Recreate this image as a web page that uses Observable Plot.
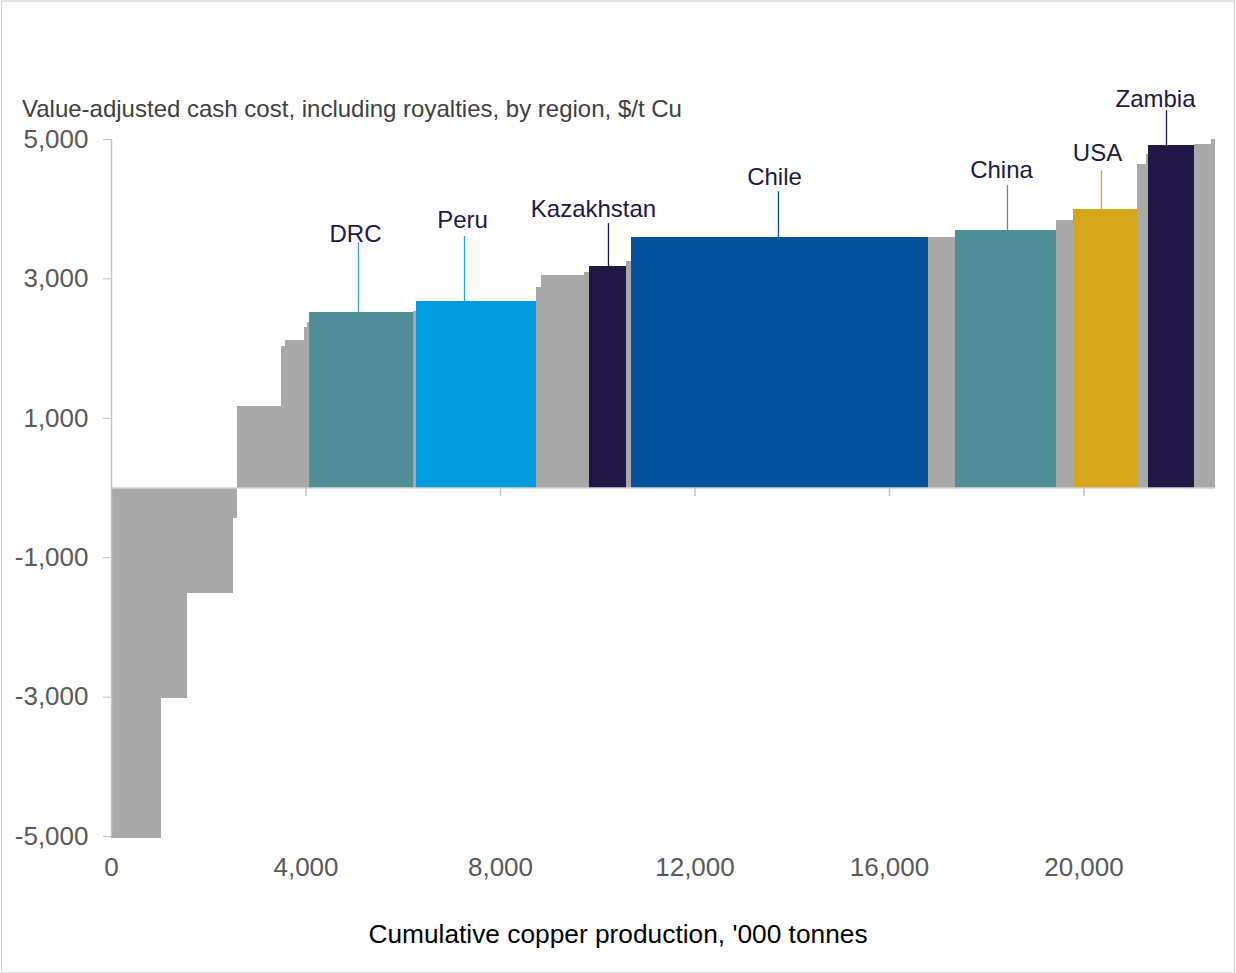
<!DOCTYPE html>
<html>
<head>
<meta charset="utf-8">
<script src="https://cdn.jsdelivr.net/npm/d3@7"></script>
<script src="https://cdn.jsdelivr.net/npm/@observablehq/plot@0.6"></script>
<style>
  body { margin: 0; background: #fff; font-family: "Liberation Sans", Arial, sans-serif; }
  #wrap { position: relative; width: 1236px; height: 973px; overflow: hidden; }
  #frame { position: absolute; left: 1px; top: 0; width: 1232px; height: 970px; border: 1px solid #d4d4d4; border-top: 2px solid #e2e2e2; pointer-events: none; box-sizing: content-box; }
  #chart { position: absolute; left: 0; top: 0; }
  #title { position: absolute; left: 22px; top: 95px; font-size: 24px; line-height: 28px; color: #404040; white-space: nowrap; }
  #xlabel { position: absolute; left: 0; width: 1236px; top: 919px; text-align: center; font-size: 26.3px; line-height: 30px; color: #000; white-space: nowrap; }
</style>
</head>
<body>
<div id="wrap">
  <div id="title">Value-adjusted cash cost, including royalties, by region, $/t Cu</div>
  <div id="chart"></div>
  <div id="xlabel">Cumulative copper production, '000 tonnes</div>
  <div id="frame"></div>
</div>
<script>
// ---- Data ----
// Each segment: region, cumulative production at its right edge ('000 t), cost ($/t Cu)
const segRegion = ["Other","Other","Other","Other","Other","Other","Other","Other","Other",
  "DRC","Other","Peru","Other","Other","Other","Kazakhstan","Other","Chile","Other",
  "China","Other","USA","Other","Other","Zambia","Other","Other"];
const segEnd = [1030, 1563, 2509, 2591, 3496, 3578, 3969, 4031, 4082,
  6211, 6273, 8741, 8843, 9728, 9831, 10591, 10694, 16809, 17358,
  19435, 19785, 21095, 21286, 21327, 22273, 22623, 22705];
const segCost = [-5030, -3020, -1513, -437, 1169, 2029, 2115, 2302, 2373,
  2517, 2530, 2674, 2871, 3055, 3095, 3176, 3248, 3588, 3590,
  3697, 3832, 3994, 4640, 4780, 4911, 4935, 5000];

const regionNames = ["Other","DRC","Peru","Kazakhstan","Chile","China","USA","Zambia"];
const regionFill  = ["#a9a9a9","#508f98","#009ade","#211846","#02539c","#508f98","#d5a619","#211846"];

// Region labels with leader lines
const labelText  = ["DRC","Peru","Kazakhstan","Chile","China","USA","Zambia"];
const labelTextX = [5018, 7219, 9913, 13635, 18304, 20278, 21471];
const labelTextY = [3528, 3728, 3886, 4345, 4445, 4689, 5464];
const leaderX    = [5080, 7260, 10221, 13717, 18427, 20360, 21697];
const leaderTop  = [3520, 3607, 3793, 4252, 4338, 4553, 5413];
const leaderBase = [2517, 2674, 3176, 3588, 3697, 3994, 4911];
const leaderColor = ["#3aa8d8","#25a6e0","#211846","#02539c","#508f98","#d5a619","#211846"];

const xTicks = [0, 4000, 8000, 12000, 16000, 20000];
const yTicks = [5000, 3000, 1000, -1000, -3000, -5000];
const xMax = 22705;

// ---- Build tables ----
const segments = segEnd.map((e, i) => ({
  region: segRegion[i], x1: i ? segEnd[i - 1] : 0, x2: e, cost: segCost[i]
}));
const labels = labelText.map((t, i) => ({
  text: t, tx: labelTextX[i], ty: labelTextY[i], lx: leaderX[i],
  y1: leaderBase[i], y2: leaderTop[i], stroke: leaderColor[i]
}));

const loc = d3.formatLocale({decimal: ".", thousands: ",", grouping: [3], currency: ["$", ""], minus: "-"});
const fmt = loc.format(",");

const chart = Plot.plot({
  width: 1236,
  height: 900,
  marginLeft: 111,
  marginRight: 21,
  marginTop: 139,
  marginBottom: 64,
  style: { fontFamily: "'Liberation Sans', Arial, sans-serif", background: "transparent", overflow: "visible" },
  x: { domain: [0, xMax] },
  y: { domain: [-5000, 5000] },
  color: { type: "ordinal", domain: regionNames, range: regionFill },
  marks: [
    Plot.rect(segments, { x1: "x1", x2: "x2", y1: 0, y2: "cost", fill: "region", shapeRendering: "crispEdges" }),
    Plot.ruleY([0], { stroke: "#d4d4d4", strokeWidth: 1.5 }),
    Plot.ruleX([0], { stroke: "#c8c8c8", strokeWidth: 1.5 }),
    Plot.ruleX(xTicks.filter(d => d > 0), { y1: 0, y2: -125, stroke: "#c0c0c0", strokeWidth: 1.5 }),
    Plot.axisY({ ticks: yTicks, tickSize: 8, tickFormat: () => "", stroke: "#c0c0c0", label: null }),
    Plot.axisY({ ticks: yTicks, tickSize: 0, tickPadding: 23, tickFormat: fmt, fill: "#595959", fontSize: 26, label: null }),
    Plot.axisX({ ticks: xTicks, tickSize: 0, tickPadding: 21, tickFormat: fmt, fill: "#595959", fontSize: 26, label: null }),
    ...labels.map(l => Plot.ruleX([l], { x: "lx", y1: "y1", y2: "y2", stroke: l.stroke, strokeWidth: 1.3 })),
    Plot.text(labels, { x: "tx", y: "ty", text: "text", lineAnchor: "bottom", fill: "#211846", fontSize: 24 })
  ]
});
document.getElementById("chart").appendChild(chart);
</script>
</body>
</html>
